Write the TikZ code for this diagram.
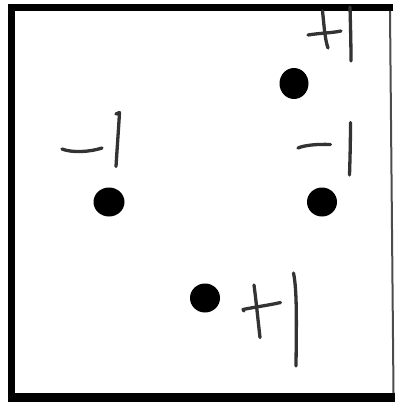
\documentclass[tikz,border=0pt]{standalone}
\begin{document}
\begin{tikzpicture}[x=1pt,y=-1pt,
  pen/.style={draw=black!80,line width=3.3pt,line cap=round,line join=round},
  dot/.style={fill=black}]
\useasboundingbox (0,0) rectangle (395,402);
% frame
\fill[black] (8,4) rectangle (15,402);
\fill[black] (8,4) rectangle (393,11);
\fill[black] (8,392.5) rectangle (395,402);
\draw[black!70,line width=2pt] (390,11) -- (393.5,393);
% dots
\fill[dot] (294,83.5) ellipse (14.5 and 15.5);
\fill[dot] (109,202) ellipse (15.5 and 14.5);
\fill[dot] (322,202) ellipse (15 and 14.5);
\fill[dot] (205,298) ellipse (15 and 14.5);
% top +1
\draw[pen] (308,35) .. controls (320,33) and (332,33) .. (341,31);
\draw[pen] (322.5,11) .. controls (324,25) and (325,40) .. (328,48);
\draw[pen] (350,7) .. controls (350.5,25) and (351,45) .. (351,61);
% left -1
\draw[pen] (62,149) .. controls (72,153) and (90,152) .. (102,148);
\draw[pen] (116,114) -- (119.5,112.5) .. controls (118.5,130) and (117,150) .. (116,166.5);
% right -1
\draw[pen] (298,148) .. controls (305,145) and (318,144) .. (330.5,144.5);
\draw[pen] (350.5,122.5) .. controls (350.5,140) and (350,160) .. (349.5,175);
% bottom +1
\draw[pen] (244,311) -- (243,309.5) .. controls (255,307) and (270,305) .. (280.5,302.5);
\draw[pen] (254,285) .. controls (256,300) and (258,320) .. (260,337.5);
\draw[pen] (293.5,273) .. controls (297,290) and (296.5,320) .. (296,366);
\end{tikzpicture}
\end{document}
